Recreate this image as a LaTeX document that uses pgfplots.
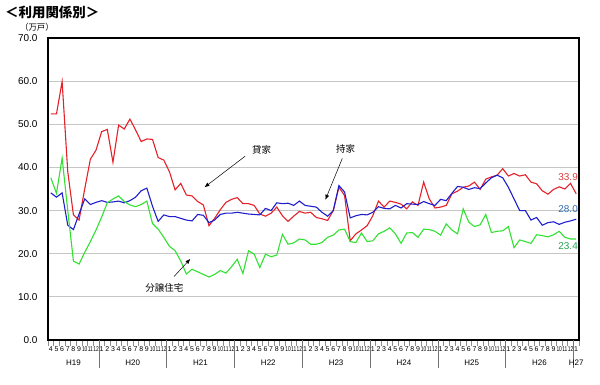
\documentclass[border=0pt]{standalone}
\usepackage{graphicx}
\usepackage{pgfplots}
\usepackage{pgfplotstable}
\pgfplotsset{compat=1.18}
\usepackage{fontspec}
\setmainfont{Liberation Sans}
\newfontfamily\jp{Noto Sans CJK JP}
\usetikzlibrary{arrows.meta}

\definecolor{cred}{RGB}{228,32,40}
\definecolor{cblue}{RGB}{30,30,205}
\definecolor{cgreen}{RGB}{50,225,50}
\definecolor{lred}{RGB}{220,60,60}
\definecolor{lblue}{RGB}{50,110,175}
\definecolor{lgreen}{RGB}{40,160,80}
\newcommand{\tw}[1]{\scalebox{0.7}[1]{#1}}

\pgfplotstableread{
i red blue green
0 52.4 34.1 37.6
1 52.4 33.1 34.0
2 59.9 34.1 42.2
3 39.0 26.6 30.0
4 29.0 25.6 18.3
5 27.8 29.2 17.6
6 35.0 32.7 20.3
7 41.9 31.4 22.8
8 44.0 31.9 25.5
9 48.3 32.3 28.5
10 48.8 31.9 31.8
11 41.2 32.0 32.7
12 49.8 32.2 33.4
13 48.9 31.8 32.1
14 51.2 32.3 31.3
15 48.7 33.1 30.9
16 46.0 34.6 31.4
17 46.6 35.2 32.2
18 46.5 31.0 27.0
19 42.3 27.5 25.7
20 41.7 29.0 23.8
21 39.0 28.6 21.7
22 34.8 28.6 20.7
23 36.3 28.2 18.3
24 33.6 27.8 15.3
25 33.4 27.6 16.4
26 32.1 29.1 15.8
27 31.3 28.9 15.2
28 26.5 27.2 14.6
29 28.2 27.8 15.2
30 30.2 29.1 16.1
31 31.9 29.4 15.5
32 32.6 29.4 17.0
33 33.0 29.6 18.7
34 31.6 29.4 15.4
35 31.6 29.2 20.7
36 31.2 29.1 19.9
37 29.2 29.0 16.8
38 28.7 30.5 19.9
39 29.4 30.0 19.3
40 30.8 31.8 19.7
41 28.8 31.6 24.5
42 27.5 31.7 22.2
43 28.7 31.2 22.5
44 29.8 32.2 23.4
45 29.4 31.2 23.2
46 29.6 31.0 22.2
47 28.4 30.8 22.2
48 28.1 29.6 22.6
49 27.7 28.7 23.8
50 30.0 30.0 24.3
51 35.4 35.8 25.5
52 33.5 34.3 25.7
53 23.0 28.3 22.8
54 24.6 28.8 22.6
55 25.5 29.1 24.8
56 26.5 29.0 22.8
57 28.8 29.6 23.0
58 32.2 30.9 24.6
59 30.8 30.5 25.2
60 32.2 30.4 26.0
61 31.9 31.2 24.6
62 31.5 30.6 22.4
63 30.4 31.6 24.8
64 32.0 31.5 24.9
65 31.2 31.4 23.8
66 36.6 32.1 25.7
67 32.7 31.6 25.6
68 30.6 31.2 25.2
69 30.8 32.6 24.3
70 31.2 32.3 26.9
71 33.9 34.0 25.5
72 34.5 35.6 24.6
73 35.4 35.4 30.4
74 35.7 34.9 27.3
75 36.6 35.3 26.3
76 34.9 35.1 26.7
77 37.3 36.4 29.1
78 37.8 37.6 24.9
79 38.2 38.2 25.2
80 39.7 37.6 25.3
81 38.0 35.4 26.3
82 38.6 32.7 21.4
83 38.0 30.0 23.2
84 38.3 30.0 22.8
85 36.6 27.8 22.4
86 36.2 28.4 24.4
87 34.6 26.6 24.2
88 33.8 27.2 23.9
89 34.9 27.4 24.4
90 35.5 26.8 25.2
91 35.0 27.3 23.8
92 36.3 27.6 23.4
93 33.9 28.0 23.4
}\data

\begin{document}
\begin{tikzpicture}
\path[use as bounding box] (-48bp,-45bp) rectangle (552bp,340bp);
\begin{axis}[
  scale only axis, width=531bp, height=302bp,
  at={(0,0)}, anchor=south west,
  xmin=-0.5, xmax=93.5, ymin=0, ymax=70,
  axis line style={black, line width=1.1bp},
  clip=false,
  tick pos=left,
  ytick={0,10,...,70},
  /pgf/number format/assume math mode=true,
  yticklabel style={/pgf/number format/.cd, fixed, fixed zerofill, precision=1, /tikz/.cd, font=\fontsize{10}{12}\selectfont, xshift=-7bp},
  ymajorgrids,
  major grid style={gray!45, line width=0.9bp},
  major tick length=0pt,
  xtick={0,...,93},
  xticklabels={4,5,6,7,8,9,\tw{10},\tw{11},\tw{12},
    1,2,3,4,5,6,7,8,9,\tw{10},\tw{11},\tw{12},
    1,2,3,4,5,6,7,8,9,\tw{10},\tw{11},\tw{12},
    1,2,3,4,5,6,7,8,9,\tw{10},\tw{11},\tw{12},
    1,2,3,4,5,6,7,8,9,\tw{10},\tw{11},\tw{12},
    1,2,3,4,5,6,7,8,9,\tw{10},\tw{11},\tw{12},
    1,2,3,4,5,6,7,8,9,\tw{10},\tw{11},\tw{12},
    1,2,3,4,5,6,7,8,9,\tw{10},\tw{11},\tw{12},
    1},
  xticklabel style={font=\fontsize{7}{8}\selectfont, anchor=center, yshift=-9bp},
  minor xtick={-0.5,0.5,...,93.5},
  minor tick length=6bp,
  xtick align=outside,
  minor tick style={black!45, line width=0.4bp},
]
\addplot[cred, line width=1.1bp] table[x=i, y=red] {\data};
\addplot[cblue, line width=1.1bp] table[x=i, y=blue] {\data};
\addplot[cgreen, line width=1.1bp] table[x=i, y=green] {\data};

\pgfplotsinvokeforeach{8.5,20.5,32.5,44.5,56.5,68.5,80.5,92.5}{
  \draw[black!55, line width=0.5bp] (axis cs:#1,0) -- ([yshift=-28bp]axis cs:#1,0);
}
\node[font=\fontsize{8}{9}\selectfont] at (axis cs:4,0) [yshift=-23bp] {H19};
\node[font=\fontsize{8}{9}\selectfont] at (axis cs:14.5,0) [yshift=-23bp] {H20};
\node[font=\fontsize{8}{9}\selectfont] at (axis cs:26.5,0) [yshift=-23bp] {H21};
\node[font=\fontsize{8}{9}\selectfont] at (axis cs:38.5,0) [yshift=-23bp] {H22};
\node[font=\fontsize{8}{9}\selectfont] at (axis cs:50.5,0) [yshift=-23bp] {H23};
\node[font=\fontsize{8}{9}\selectfont] at (axis cs:62.5,0) [yshift=-23bp] {H24};
\node[font=\fontsize{8}{9}\selectfont] at (axis cs:74.5,0) [yshift=-23bp] {H25};
\node[font=\fontsize{8}{9}\selectfont] at (axis cs:86.5,0) [yshift=-23bp] {H26};
\node[font=\fontsize{8}{9}\selectfont] at (axis cs:93,0) [yshift=-23bp] {H27};

\node[anchor=east, inner sep=1bp, text=lred, font=\fontsize{10}{12}\selectfont] at (axis cs:93.5,37.8) {33.9};
\node[anchor=east, inner sep=1bp, text=lblue, font=\fontsize{10}{12}\selectfont] at (axis cs:93.5,30.4) {28.0};
\node[anchor=east, inner sep=1bp, text=lgreen, font=\fontsize{10}{12}\selectfont] at (axis cs:93.5,21.8) {23.4};

\node[font=\jp\fontsize{9.5}{11}\selectfont] at (axis cs:37.3,44.0) {貸家};
\draw[-{Latex[length=5bp,width=4bp]}, line width=0.5bp] (axis cs:34.4,42.6) -- (axis cs:27.2,35.4);
\node[font=\jp\fontsize{9.5}{11}\selectfont] at (axis cs:52.2,44.4) {持家};
\draw[-{Latex[length=5bp,width=4bp]}, line width=0.5bp] (axis cs:51.6,42.1) -- (axis cs:48.6,32.5);
\node[font=\jp\fontsize{9.5}{11}\selectfont] at (axis cs:20.1,12.0) {分譲住宅};
\draw[-{Latex[length=5bp,width=4bp]}, line width=0.5bp] (axis cs:21.8,14.7) -- (axis cs:24.7,18.8);

\node[anchor=west, font=\jp\bfseries\fontsize{13.5}{15}\selectfont, inner sep=0pt] at (rel axis cs:0,1) [xshift=-43bp, yshift=26bp] {＜利用関係別＞};
\node[font=\jp\fontsize{8.5}{10}\selectfont, inner sep=0pt] at (rel axis cs:0,1) [xshift=-11bp, yshift=11bp] {（万戸）};
\end{axis}
\end{tikzpicture}
\end{document}
